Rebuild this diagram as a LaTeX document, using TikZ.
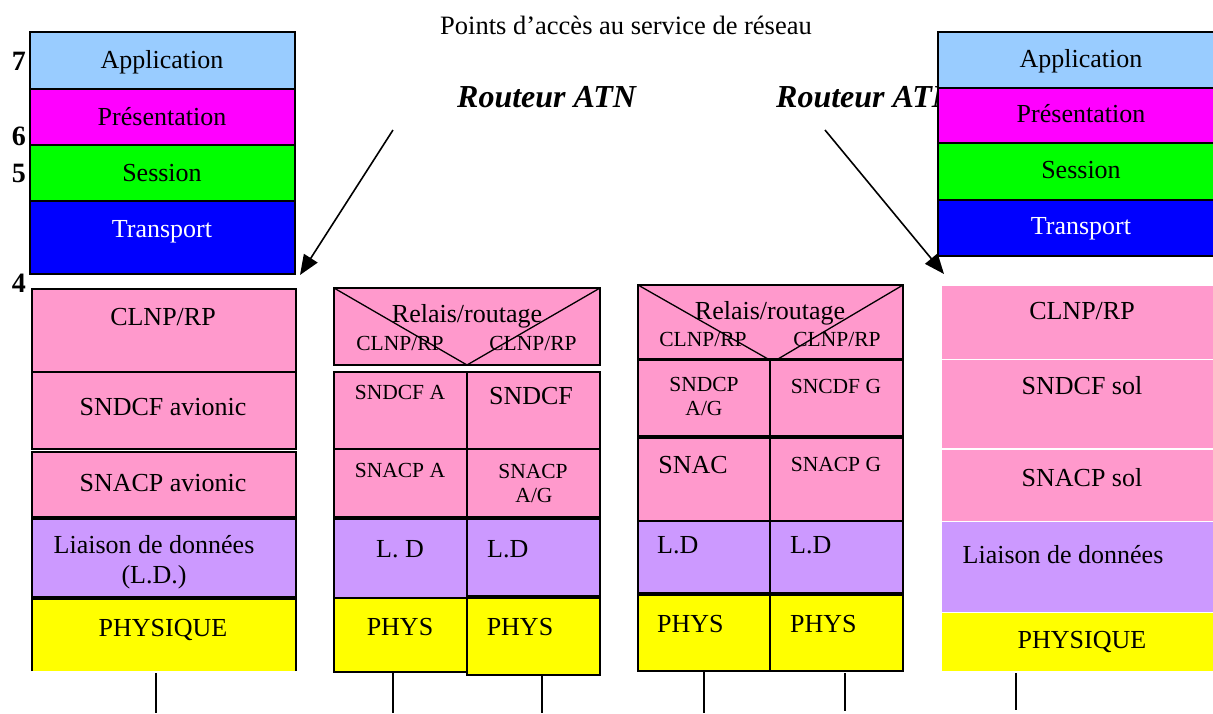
\documentclass[tikz,border=0pt]{standalone}
\usepackage{fontspec}
\setmainfont{Liberation Serif}
\usetikzlibrary{arrows.meta,fit}
\definecolor{rose}{HTML}{FF99CC}
\definecolor{lavande}{HTML}{CC99FF}
\definecolor{jaune}{HTML}{FFFF00}
\definecolor{ciel}{HTML}{99CCFF}
\definecolor{magenta}{HTML}{FF00FF}
\definecolor{vert}{HTML}{00FF00}
\definecolor{bleu}{HTML}{0000FF}
\begin{document}
\begin{tikzpicture}[x=1pt,y=-1pt,
  osi/.style={draw=black, line width=2.6pt, inner sep=0pt, outer sep=0pt},
  cell/.style={draw=black, line width=1.3pt, inner sep=0pt, outer sep=0pt},
  flat/.style={draw=none, inner sep=0pt, outer sep=0pt},
  lbl/.style={anchor=base, inner sep=0pt, font=\fontsize{26}{30}\selectfont},
  sm/.style={anchor=base, inner sep=0pt, font=\fontsize{21.5}{25}\selectfont},
  num/.style={anchor=base, inner sep=0pt, font=\bfseries\fontsize{28}{30}\selectfont},
  rtr/.style={anchor=base west, inner sep=0pt, font=\bfseries\itshape\fontsize{32}{36}\selectfont},
  arr/.style={-{Triangle[length=20pt,width=16pt]}, line width=1.6pt},
  wire/.style={line width=1.6pt}]
\clip (0,0) rectangle (1213,713);
\fill[white] (0,0) rectangle (1213,713);

% title
\node[lbl, font=\fontsize{26.5}{30}\selectfont] (titre) at (626,34) {Points d’accès au service de réseau};

% ---------- left end system : upper layers ----------
\node[osi, fill=ciel,    fit={(30,32) (295,89)}]   (appL) {};
\node[osi, fill=magenta, fit={(30,89) (295,145)}]  (preL) {};
\node[osi, fill=vert,    fit={(30,145) (295,201)}] (sesL) {};
\node[osi, fill=bleu,    fit={(30,201) (295,274)}] (traL) {};
\node[lbl] (tappL) at (162,68)  {Application};
\node[lbl] (tpreL) at (162,125) {Présentation};
\node[lbl] (tsesL) at (162,181) {Session};
\node[lbl, text=white] (ttraL) at (162,237) {Transport};
\node[num] (n7) at (19,70)  {7};
\node[num] (n6) at (19,145) {6};
\node[num] (n5) at (19,182) {5};
\node[num] (n4) at (19,292) {4};

% ---------- left end system : lower layers ----------
\node[cell, fill=rose,    fit={(32,289) (296,372)}] (clnpL) {};
\node[cell, fill=rose,    fit={(32,372) (296,449)}] (sndcfL) {};
\node[cell, fill=rose,    fit={(32,452) (296,517)}] (snacpL) {};
\node[cell, fill=lavande, fit={(32,519) (296,597)}] (ldL) {};
\node[flat, fill=jaune,   fit={(32,599) (296,671)}] (physL) {};
\draw[line width=1.3pt] (physL.south west) -- (physL.north west) -- (physL.north east) -- (physL.south east);
\node[lbl] (tclnpL)  at (163,325) {CLNP/RP};
\node[lbl] (tsndcfL) at (163,415) {SNDCF avionic};
\node[lbl] (tsnacpL) at (163,491) {SNACP avionic};
\node[lbl] (tldL)    at (154,553) {Liaison de données};
\node[lbl] (tldL2)   at (154,583) {(L.D.)};
\node[lbl] (tphysL)  at (163,636) {PHYSIQUE};
\coordinate (wL1) at (156,673);
\coordinate (wL2) at (156,713);
\draw[wire] (wL1) -- (wL2);

% ---------- first ATN router ----------
\node[cell, fill=rose, fit={(334,288) (600,365)}] (rAtop) {};
\draw[line width=1.3pt] (rAtop.north west) -- (rAtop.south) -- (rAtop.north east);
\node[lbl] (trA)  at (467,322) {Relais/routage};
\node[sm]  (trA1) at (400,350) {CLNP/RP};
\node[sm]  (trA2) at (533,350) {CLNP/RP};
\node[cell, fill=rose,    fit={(334,372) (467,449)}] (rA1L) {};
\node[cell, fill=rose,    fit={(467,372) (600,449)}] (rA1R) {};
\node[cell, fill=rose,    fit={(334,449) (467,517)}] (rA2L) {};
\node[cell, fill=rose,    fit={(467,449) (600,517)}] (rA2R) {};
\node[cell, fill=lavande, fit={(334,519) (467,598)}] (rA3L) {};
\node[cell, fill=lavande, fit={(467,519) (600,596)}] (rA3R) {};
\node[cell, fill=jaune,   fit={(334,598) (467,672)}] (rA4L) {};
\node[cell, fill=jaune,   fit={(467,598) (600,675)}] (rA4R) {};
\node[sm]  (trA1L) at (400,399) {SNDCF A};
\node[lbl] (trA1R) at (531,404) {SNDCF};
\node[sm]  (trA2L) at (400,477) {SNACP A};
\node[sm]  (trA2R) at (533,478) {SNACP};
\node[sm]  (trA2R2) at (534,502) {A/G};
\node[lbl] (trA3L) at (400,557) {L. D};
\node[lbl, anchor=base west] (trA3R) at (487,557) {L.D};
\node[lbl] (trA4L) at (400,635) {PHYS};
\node[lbl] (trA4R) at (520,635) {PHYS};
\coordinate (wA1) at (393,672);
\coordinate (wA1b) at (393,713);
\coordinate (wA2) at (542,676);
\coordinate (wA2b) at (542,713);
\draw[wire] (wA1) -- (wA1b);
\draw[wire] (wA2) -- (wA2b);

% ---------- second ATN router ----------
\node[cell, fill=rose, line width=1.8pt, fit={(638,285) (903,359)}] (rBtop) {};
\coordinate (rBv1) at (768,359);
\coordinate (rBv2) at (778,359);
\draw[line width=1.3pt] (rBtop.north west) -- (rBv1);
\draw[line width=1.3pt] (rBv2) -- (rBtop.north east);
\node[lbl] (trB)  at (770,319) {Relais/routage};
\node[sm]  (trB1) at (703,346) {CLNP/RP};
\node[sm]  (trB2) at (837,346) {CLNP/RP};
\node[cell, fill=rose,    fit={(638,360) (770,436)}] (rB1L) {};
\node[cell, fill=rose,    fit={(770,360) (903,436)}] (rB1R) {};
\node[cell, fill=rose,    fit={(638,438) (770,521)}] (rB2L) {};
\node[cell, fill=rose,    fit={(770,438) (903,521)}] (rB2R) {};
\node[cell, fill=lavande, fit={(638,521) (770,593)}] (rB3L) {};
\node[cell, fill=lavande, fit={(770,521) (903,593)}] (rB3R) {};
\node[cell, fill=jaune, line width=1.8pt, fit={(638,595) (770,671)}] (rB4L) {};
\node[cell, fill=jaune, line width=1.8pt, fit={(770,595) (903,671)}] (rB4R) {};
\node[sm]  (trB1L)  at (704,391) {SNDCP};
\node[sm]  (trB1L2) at (704,415) {A/G};
\node[sm]  (trB1R)  at (836,393) {SNCDF G};
\node[lbl] (trB2L)  at (693,473) {SNAC};
\node[sm]  (trB2R)  at (836,471) {SNACP G};
\node[lbl, anchor=base west] (trB3L) at (657,553) {L.D};
\node[lbl, anchor=base west] (trB3R) at (790,553) {L.D};
\node[lbl, anchor=base west] (trB4L) at (657,632) {PHYS};
\node[lbl, anchor=base west] (trB4R) at (790,632) {PHYS};
\coordinate (wB1) at (704,672);
\coordinate (wB1b) at (704,713);
\coordinate (wB2) at (845,673);
\coordinate (wB2b) at (845,711);
\draw[wire] (wB1) -- (wB1b);
\draw[wire] (wB2) -- (wB2b);

% ---------- router captions and pointers ----------
\node[rtr] (rtrA) at (457,107) {Routeur ATN};
\node[rtr] (rtrB) at (776,107) {Routeur ATN};
\coordinate (pA0) at (393,130);
\coordinate (pA1) at (300,275);
\coordinate (pB0) at (825,130);
\coordinate (pB1) at (944,274);
\draw[arr] (pA0) -- (pA1);
\draw[arr] (pB0) -- (pB1);

% ---------- right end system : upper layers ----------
\node[osi, line width=2pt, fill=ciel,    fit={(938,32) (1225,88)}]   (appR) {};
\node[osi, line width=2pt, fill=magenta, fit={(938,88) (1225,143)}]  (preR) {};
\node[osi, line width=2pt, fill=vert,    fit={(938,143) (1225,200)}] (sesR) {};
\node[osi, line width=2pt, fill=bleu,    fit={(938,200) (1225,256)}] (traR) {};
\node[lbl] (tappR) at (1081,67)  {Application};
\node[lbl] (tpreR) at (1081,122) {Présentation};
\node[lbl] (tsesR) at (1081,178) {Session};
\node[lbl, text=white] (ttraR) at (1081,234) {Transport};

% ---------- right end system : lower layers ----------
\node[flat, fill=rose,    fit={(942,286) (1213,359)}] (clnpR) {};
\node[flat, fill=rose,    fit={(942,360) (1213,448)}] (sndcfR) {};
\node[flat, fill=rose,    fit={(942,450) (1213,521)}] (snacpR) {};
\node[flat, fill=lavande, fit={(942,522) (1213,612)}] (ldR) {};
\node[flat, fill=jaune,   fit={(942,613) (1213,671)}] (physR) {};
\node[lbl] (tclnpR)  at (1082,319) {CLNP/RP};
\node[lbl] (tsndcfR) at (1082,394) {SNDCF sol};
\node[lbl] (tsnacpR) at (1082,486) {SNACP sol};
\node[lbl] (tldR)    at (1063,563) {Liaison de données};
\node[lbl] (tphysR)  at (1082,648) {PHYSIQUE};
\coordinate (wR1) at (1016,673);
\coordinate (wR2) at (1016,710);
\draw[wire] (wR1) -- (wR2);
\end{tikzpicture}
\end{document}
